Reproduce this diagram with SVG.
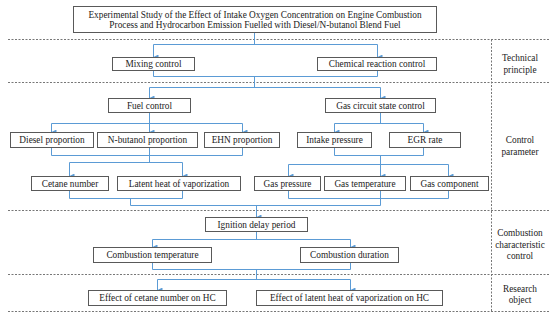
<svg xmlns="http://www.w3.org/2000/svg" width="550" height="314" viewBox="0 0 550 314">
<defs>
<marker id="ah" markerUnits="userSpaceOnUse" markerWidth="5" markerHeight="5" viewBox="0 0 5 5" refX="2.5" refY="5" orient="auto-start-reverse">
<path d="M0,0 L5,0 L2.5,5 Z" fill="#5b9bd5"/>
</marker>
</defs>
<style>
.box{fill:#fff;stroke:#595959;stroke-width:1}
.t{font-family:"Liberation Serif","Times New Roman",serif;font-size:9.3px;fill:#222;text-anchor:middle}
.c{fill:none;stroke:#5b9bd5;stroke-width:1}
.a{fill:none;stroke:#5b9bd5;stroke-width:1;marker-end:url(#ah)}
.d{fill:none;stroke:#777;stroke-width:1;stroke-dasharray:2,1.5}
</style>
<rect width="550" height="314" fill="#fff"/>
<g id="dividers">
<path class="d" d="M8,39.5 H550 M8,82.5 H550 M8,210.5 H550 M8,274.5 H550 M8,311.5 H550"/>
<path class="d" d="M491.5,39.5 V311.5"/>
</g>
<g id="connectors">
<path class="c" d="M254.5,32.5 V44.5 M153.5,44.5 H377.5"/>
<path class="a" d="M153.5,44.5 V57"/>
<path class="a" d="M377.5,44.5 V57"/>
<path class="c" d="M153.5,70 V76.5 H377.5 V70 M254.5,76.5 V87.5 M149.5,87.5 H380.5"/>
<path class="a" d="M149.5,87.5 V98"/>
<path class="a" d="M380.5,87.5 V98"/>
<path class="c" d="M149.5,112 V123.5 M51.5,123.5 H242.5"/>
<path class="a" d="M51.5,123.5 V132"/>
<path class="a" d="M149.5,123.5 V132"/>
<path class="a" d="M242.5,123.5 V132"/>
<path class="c" d="M51.5,147 V155.5 H242.5 V147 M149.5,147 V162.5 M69.5,162.5 H182.5"/>
<path class="a" d="M69.5,162.5 V176"/>
<path class="a" d="M182.5,162.5 V176"/>
<path class="c" d="M69.5,190 V198.5 H182.5 V190 M130.5,198.5 V205.5"/>
<path class="c" d="M380.5,112 V123.5 M334.5,123.5 H423.5"/>
<path class="a" d="M334.5,123.5 V132"/>
<path class="a" d="M423.5,123.5 V132"/>
<path class="c" d="M334.5,147 V155.5 H423.5 V147 M380.5,155.5 V164.5 M288.5,164.5 H448.5"/>
<path class="a" d="M288.5,164.5 V176"/>
<path class="a" d="M380.5,164.5 V176"/>
<path class="a" d="M448.5,164.5 V176"/>
<path class="c" d="M288.5,190 V198.5 H448.5 V190 M380.5,190 V205.5"/>
<path class="c" d="M130.5,205.5 H380.5"/>
<path class="a" d="M256.5,205.5 V217"/>
<path class="c" d="M256.5,231 V239.5 M152.5,239.5 H350.5"/>
<path class="a" d="M152.5,239.5 V247"/>
<path class="a" d="M350.5,239.5 V247"/>
<path class="c" d="M152.5,262 V269.5 H350.5 V262 M256.5,269.5 V279.5 M157.5,279.5 H350.5"/>
<path class="a" d="M157.5,279.5 V290"/>
<path class="a" d="M350.5,279.5 V290"/>
</g>
<g id="title">
<rect class="box" x="73.5" y="6.5" width="363" height="26"/>
<text class="t" x="255" y="17.5">Experimental Study of the Effect of Intake Oxygen Concentration on Engine Combustion</text>
<text class="t" x="255" y="27.5">Process and Hydrocarbon Emission Fuelled with Diesel/N-butanol Blend Fuel</text>
</g>
<g id="mixing"><rect class="box" x="112.5" y="57.5" width="82" height="13"/><text class="t" x="153.5" y="67">Mixing control</text></g>
<g id="chemical"><rect class="box" x="317.5" y="57.5" width="119" height="13"/><text class="t" x="377" y="67">Chemical reaction control</text></g>
<g id="fuel"><rect class="box" x="108.5" y="98.5" width="82" height="14"/><text class="t" x="149.5" y="108.5">Fuel control</text></g>
<g id="gascircuit"><rect class="box" x="325.5" y="98.5" width="110" height="14"/><text class="t" x="380.5" y="108.5">Gas circuit state control</text></g>
<g id="diesel"><rect class="box" x="10.5" y="132.5" width="83" height="15"/><text class="t" x="52" y="143">Diesel proportion</text></g>
<g id="nbutanol"><rect class="box" x="97.5" y="132.5" width="100" height="15"/><text class="t" x="147.5" y="143">N-butanol proportion</text></g>
<g id="ehn"><rect class="box" x="204.5" y="132.5" width="75" height="15"/><text class="t" x="242" y="143">EHN proportion</text></g>
<g id="intake"><rect class="box" x="297.5" y="132.5" width="74" height="15"/><text class="t" x="334.5" y="143">Intake pressure</text></g>
<g id="egr"><rect class="box" x="389.5" y="132.5" width="71" height="15"/><text class="t" x="425" y="143">EGR rate</text></g>
<g id="cetane"><rect class="box" x="31.5" y="176.5" width="77" height="14"/><text class="t" x="70" y="186.5">Cetane number</text></g>
<g id="latent"><rect class="box" x="117.5" y="176.5" width="123" height="14"/><text class="t" x="179" y="186.5">Latent heat of vaporization</text></g>
<g id="gaspressure"><rect class="box" x="254.5" y="176.5" width="66" height="14"/><text class="t" x="287.5" y="186.5">Gas pressure</text></g>
<g id="gastemp"><rect class="box" x="324.5" y="176.5" width="81" height="14"/><text class="t" x="365" y="186.5">Gas temperature</text></g>
<g id="gascomp"><rect class="box" x="410.5" y="176.5" width="78" height="14"/><text class="t" x="449.5" y="186.5">Gas component</text></g>
<g id="ignition"><rect class="box" x="205.5" y="217.5" width="102" height="14"/><text class="t" x="256.5" y="227.5">Ignition delay period</text></g>
<g id="combtemp"><rect class="box" x="93.5" y="247.5" width="118" height="15"/><text class="t" x="152.5" y="258">Combustion temperature</text></g>
<g id="combdur"><rect class="box" x="300.5" y="247.5" width="98" height="15"/><text class="t" x="349.5" y="258">Combustion duration</text></g>
<g id="effcetane"><rect class="box" x="88.5" y="290.5" width="138" height="15"/><text class="t" x="157.5" y="301">Effect of cetane number on HC</text></g>
<g id="efflatent"><rect class="box" x="256.5" y="290.5" width="186" height="15"/><text class="t" x="349.5" y="301">Effect of latent heat of vaporization on HC</text></g>
<g id="labels">
<text class="t" x="520" y="60.5">Technical</text>
<text class="t" x="520" y="72.5">principle</text>
<text class="t" x="520" y="143">Control</text>
<text class="t" x="520" y="154.5">parameter</text>
<text class="t" x="520" y="236">Combustion</text>
<text class="t" x="520" y="247.5">characteristic</text>
<text class="t" x="520" y="259">control</text>
<text class="t" x="520" y="292">Research</text>
<text class="t" x="520" y="303">object</text>
</g>
</svg>
